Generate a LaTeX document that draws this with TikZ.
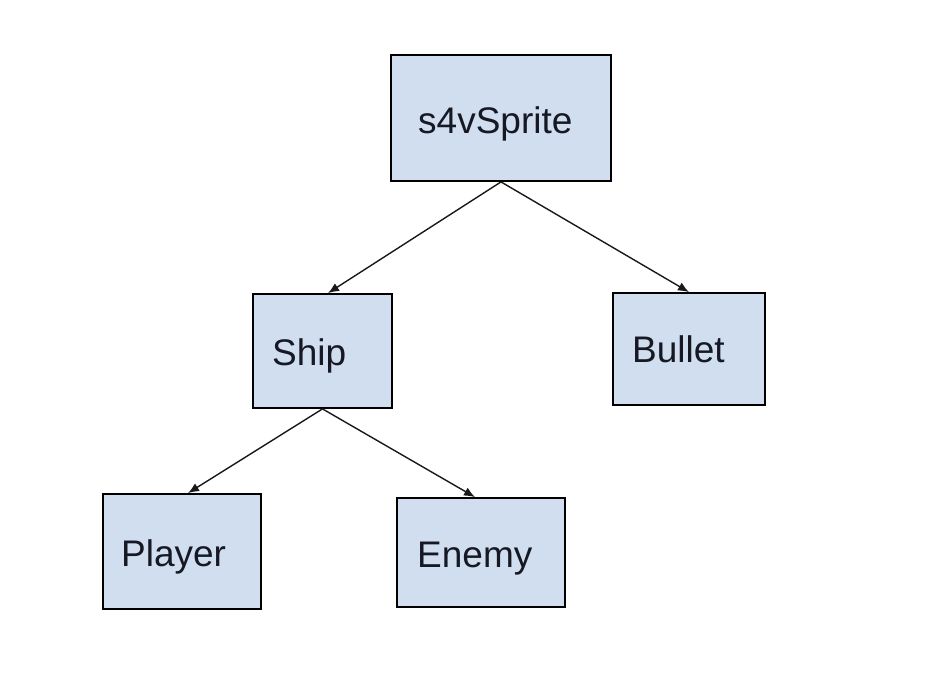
\documentclass[tikz,border=0pt]{standalone}
\usepackage{fontspec}
\setmainfont{Liberation Sans}
\usetikzlibrary{arrows.meta,calc}
\definecolor{boxfill}{RGB}{208,222,239}
\definecolor{txt}{RGB}{22,24,36}
\tikzset{
  box/.style={draw=black, line width=1.8pt, fill=boxfill, inner sep=0pt},
  lbl/.style={anchor=base west, inner sep=0pt, font=\fontsize{37}{42}\selectfont, text=txt},
  conn/.style={draw=black!90, line width=1.4pt, -{Latex[length=11pt,width=9pt]}}
}
\begin{document}
\begin{tikzpicture}[x=1pt,y=-1pt]
\useasboundingbox (0,0) rectangle (926,688);
\node[box, minimum width=220pt, minimum height=126pt] (spr) at (501,118) {};
\node[box, minimum width=139pt, minimum height=114pt] (ship) at (322.5,351) {};
\node[box, minimum width=152pt, minimum height=112pt] (bul) at (689,349) {};
\node[box, minimum width=158pt, minimum height=115pt] (pla) at (182,551.5) {};
\node[box, minimum width=168pt, minimum height=109pt] (ene) at (481,552.5) {};
\node[lbl] (tspr) at (418,133) {s4vSprite};
\node[lbl] (tship) at (272,365) {Ship};
\node[lbl] (tbul) at (632,362) {Bullet};
\node[lbl] (tpla) at (121,566) {Player};
\node[lbl] (tene) at (417,567) {Enemy};
\draw[conn] (spr.south) -- ($(ship.north)+(5.5,0)$);
\draw[conn] (spr.south) -- (bul.north);
\draw[conn] (ship.south) -- ($(pla.north)+(6,0)$);
\draw[conn] (ship.south) -- ($(ene.north)+(-6,0)$);
\end{tikzpicture}
\end{document}
